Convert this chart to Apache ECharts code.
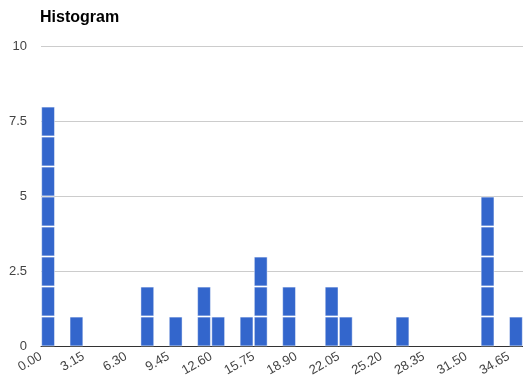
<!DOCTYPE html>
<html>
<head>
<meta charset="utf-8">
<script src="https://cdn.jsdelivr.net/npm/echarts@6/dist/echarts.min.js"></script>
<style>
  html, body { margin: 0; padding: 0; background: #fff; }
  #chart { width: 523px; height: 383px; }
</style>
</head>
<body>
<div id="chart"></div>
<script>
// Histogram bins: width 1.05, starting at 0
const binWidth = 1.05;
const binStarts = [0, 2.10, 7.35, 9.45, 11.55, 12.60, 14.70, 15.75, 17.85, 21.00, 22.05, 26.25, 32.55, 34.65];
const binCounts = [8, 1, 2, 1, 2, 1, 1, 3, 2, 2, 1, 1, 5, 1];
const yTicks = [0, 2.5, 5, 7.5, 10];
const xTickStep = 3.15;

const data = binStarts.map((s, i) => [s, binCounts[i]]);

const chart = echarts.init(document.getElementById('chart'), null, { renderer: 'canvas' });

chart.setOption({
  animation: false,
  backgroundColor: '#ffffff',
  title: {
    text: 'Histogram',
    left: 35,
    top: 5,
    textStyle: { fontFamily: 'Liberation Sans, Arial, sans-serif', fontSize: 16, fontWeight: 'bold', color: '#000' }
  },
  grid: { left: 41, right: -2, top: 46.5, bottom: 36.5, containLabel: false },
  xAxis: {
    type: 'value',
    min: 0,
    max: 35.7,
    interval: xTickStep,
    axisLine: { show: true, onZero: true, lineStyle: { color: '#333', width: 1 } },
    axisTick: { show: false },
    splitLine: { show: false },
    axisLabel: {
      rotate: 30,
      margin: 9,
      showMaxLabel: false,
      color: '#444',
      fontSize: 13,
      fontFamily: 'Liberation Sans, Arial, sans-serif',
      formatter: v => v.toFixed(2)
    }
  },
  yAxis: {
    type: 'value',
    min: yTicks[0],
    max: yTicks[yTicks.length - 1],
    interval: yTicks[1] - yTicks[0],
    axisLine: { show: false },
    axisTick: { show: false },
    splitLine: { lineStyle: { color: '#cccccc', width: 1 } },
    axisLabel: {
      margin: 14,
      color: '#444',
      fontSize: 13,
      fontFamily: 'Liberation Sans, Arial, sans-serif'
    }
  },
  series: [{
    type: 'custom',
    data: data,
    clip: false,
    renderItem: function (params, api) {
      const start = api.value(0);
      const count = api.value(1);
      const left = api.coord([start, 0])[0];
      const right = api.coord([start + binWidth, 0])[0];
      const children = [];
      // one rectangle per counted item, stacked with a thin white gap
      for (let k = 0; k < count; k++) {
        const yBottom = api.coord([start, k])[1];
        const yTop = api.coord([start, k + 1])[1];
        children.push({
          type: 'rect',
          shape: {
            x: left + 0.7,
            y: yTop + 0.6,
            width: right - left - 1.4,
            height: yBottom - yTop - 1.2
          },
          style: { fill: '#3366cc', stroke: 'rgba(255,255,255,0.45)', lineWidth: 1 }
        });
      }
      return { type: 'group', children: children };
    },
    z: 3
  }]
});
</script>
</body>
</html>
